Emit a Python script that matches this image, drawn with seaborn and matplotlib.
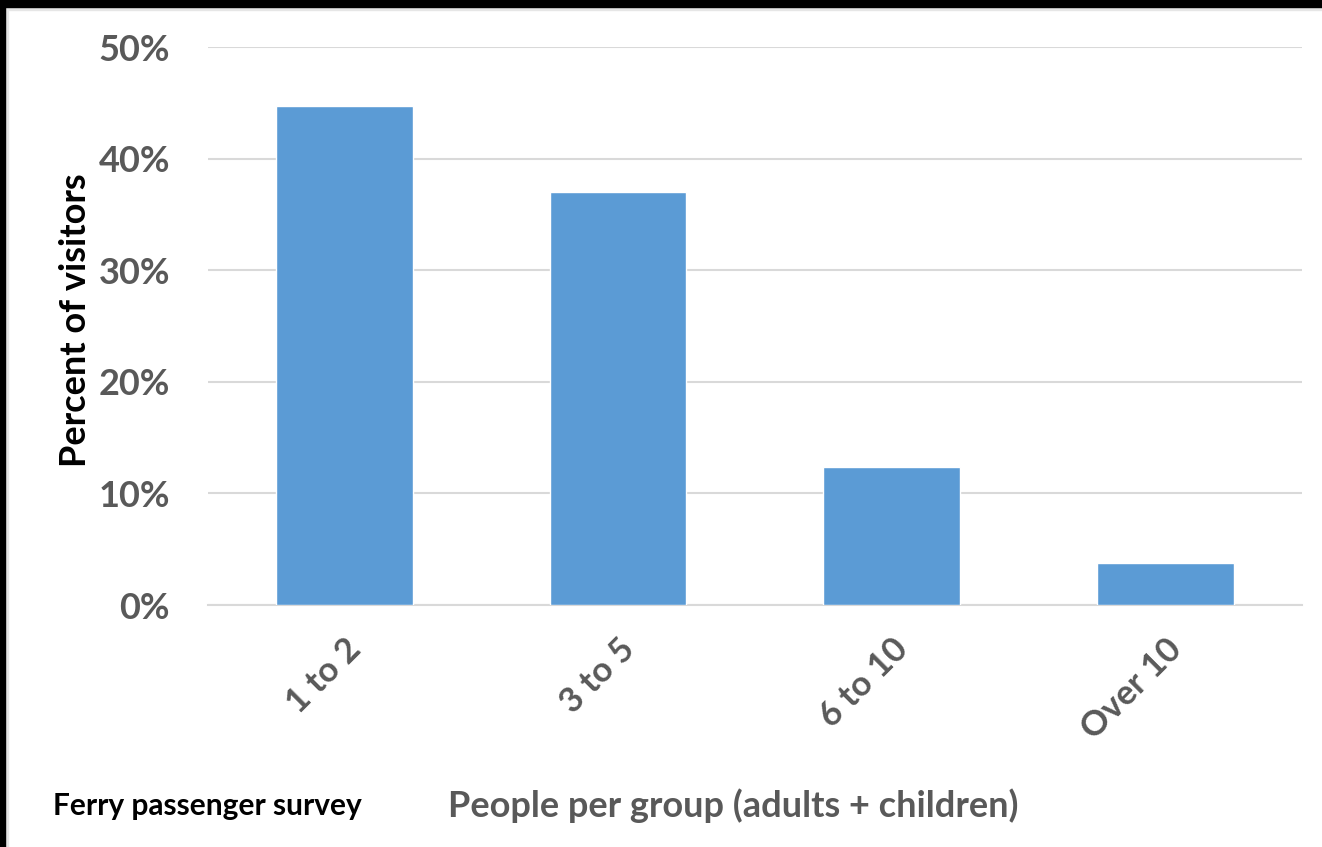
import matplotlib
matplotlib.use("Agg")
import matplotlib.pyplot as plt
import matplotlib.ticker as mticker
from matplotlib.patches import Rectangle
import seaborn as sns
import pandas as pd

# data
groups = ["1 to 2", "3 to 5", "6 to 10", "Over 10"]
share = [0.447, 0.370, 0.124, 0.038]

df = pd.DataFrame({"group": groups, "share": share})

sns.set_style("white")
plt.rcParams["font.family"] = ["Lato", "DejaVu Sans"]

grey = "#595959"
fig = plt.figure(figsize=(13.22, 8.47), dpi=100)
ax = fig.add_axes([0.157, 0.2857, 0.828, 0.6588])

sns.barplot(data=df, x="group", y="share", color="#5b9bd5", width=0.5,
            saturation=1, ax=ax, zorder=3)

ax.set_ylim(0, 0.5)
ax.set_yticks([0, 0.1, 0.2, 0.3, 0.4, 0.5])
ax.yaxis.set_major_formatter(mticker.PercentFormatter(1.0, decimals=0))
ax.grid(axis="y", color="#d9d9d9", linewidth=1.5, zorder=0)
ax.set_axisbelow(True)
for s in ["top", "right", "left"]:
    ax.spines[s].set_visible(False)
ax.spines["bottom"].set_color("#d9d9d9")
ax.spines["bottom"].set_linewidth(1.5)
ax.tick_params(length=0)
ax.tick_params(axis="y", pad=27, labelsize=26, labelcolor=grey)
ax.tick_params(axis="x", pad=20, labelsize=25, labelcolor=grey)
for lab in ax.get_yticklabels():
    lab.set_fontweight("bold")
for lab in ax.get_xticklabels():
    lab.set_fontweight("bold")
    lab.set_rotation(45)
    lab.set_ha("right")
    lab.set_va("top")
    lab.set_rotation_mode("anchor")

ax.set_xlabel("")
ax.set_ylabel("Percent of visitors", fontsize=26, fontweight="bold",
              color="black", va="center")
ax.yaxis.set_label_coords(-0.121, 0.51)
fig.text(0.555, 0.049, "People per group (adults + children)", fontsize=26,
         fontweight="bold", color=grey, ha="center", va="center")
fig.text(0.04, 0.048, "Ferry passenger survey", fontsize=21.5,
         fontweight="bold", color="black", ha="left", va="center")

# black frame on the top and left edges, like the screenshot
W, H = 1322, 847
fig.patches.append(Rectangle((0, 1 - 7 / H), 1, 7 / H, transform=fig.transFigure,
                             color="black", zorder=10))
fig.patches.append(Rectangle((0, 0), 5 / W, 1, transform=fig.transFigure,
                             color="black", zorder=10))
fig.patches.append(Rectangle((0, 1 - 10 / H), 1, 3 / H, transform=fig.transFigure,
                             color="#e6e6e6", zorder=9))
fig.patches.append(Rectangle((5 / W, 0), 3 / W, 1, transform=fig.transFigure,
                             color="#e6e6e6", zorder=9))

fig.savefig("out.png", dpi=100)
